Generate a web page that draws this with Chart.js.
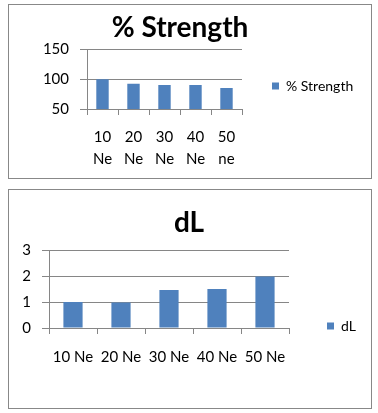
<!DOCTYPE html>
<html>
<head>
<meta charset="utf-8">
<script src="https://cdn.jsdelivr.net/npm/chart.js@4.4.1/dist/chart.umd.min.js"></script>
<style>
  html, body { margin: 0; padding: 0; background: #fff; }
  body { width: 378px; height: 413px; position: relative; overflow: hidden; }
  .box { position: absolute; border: 1px solid #888; background: #fff; }
  #box1 { left: 8px; top: 4px; width: 362px; height: 173px; }
  #box2 { left: 8px; top: 189px; width: 362px; height: 218px; }
  canvas { display: block; }
</style>
</head>
<body>
<div class="box" id="box1"><canvas id="strengthChart" width="362" height="173"></canvas></div>
<div class="box" id="box2"><canvas id="dlChart" width="362" height="218"></canvas></div>
<script>
// --- DATA ---
const strengthLabels = [['10', 'Ne'], ['20', 'Ne'], ['30', 'Ne'], ['40', 'Ne'], ['50', 'ne']];
const strengthValues = [100, 92.5, 90.5, 90.5, 85.5];
const strengthTicks = [50, 100, 150];

const dlLabels = ['10 Ne', '20 Ne', '30 Ne', '40 Ne', '50 Ne'];
const dlValues = [1.01, 0.99, 1.47, 1.51, 2.0];
const dlTicks = [0, 1, 2, 3];

// --- STYLE ---
const BAR_COLOR = '#4F81BD';
const GRID_COLOR = '#868686';
Chart.defaults.font.family = 'Lato, "Open Sans", sans-serif';
Chart.defaults.color = '#000';

// pins the title centre and the legend item to fixed spots (Excel style layout)
const boxPlace = {
    id: 'boxPlace',
    afterLayout(chart, args, opts) {
        const t = chart.titleBlock;
        if (t && opts.titleX != null) {
            t.left = opts.titleX - 150;
            t.right = opts.titleX + 150;
            t.width = 300;
        }
        const lg = chart.legend;
        if (lg && opts.legendX != null) {
            lg.left = opts.legendX;
            lg.right = opts.legendX + 120;
            lg.width = 120;
            lg.top = opts.legendY - 10;
            lg.bottom = opts.legendY + 10;
            lg.height = 20;
        }
    }
};

const makeChart = (id, labels, values, name, yTicks, cfg) => {
    return new Chart(document.getElementById(id), {
        type: 'bar',
        data: {
            labels: labels,
            datasets: [{
                label: name,
                data: values,
                backgroundColor: BAR_COLOR,
                borderWidth: 0,
                barPercentage: 0.4,
                categoryPercentage: 1.0
            }]
        },
        plugins: [boxPlace],
        options: {
            responsive: false,
            animation: false,
            layout: { padding: { left: 0, top: 0, right: cfg.padRight, bottom: 0 } },
            scales: {
                x: {
                    grid: { drawOnChartArea: false, tickLength: 6, color: GRID_COLOR, offset: true },
                    border: { color: GRID_COLOR },
                    afterFit: (scale) => { scale.height = cfg.xAxisH; },
                    ticks: {
                        font: { size: 15, lineHeight: cfg.xLineHeight },
                        padding: cfg.xPad, maxRotation: 0, autoSkip: false
                    }
                },
                y: {
                    min: yTicks[0],
                    max: yTicks[yTicks.length - 1],
                    afterBuildTicks: (scale) => { scale.ticks = yTicks.map(v => ({ value: v })); },
                    afterFit: (scale) => { scale.width = cfg.axisX; },
                    grid: { color: GRID_COLOR, tickLength: 7 },
                    border: { color: GRID_COLOR },
                    ticks: { font: { size: 15 }, padding: 11, autoSkip: false }
                }
            },
            plugins: {
                title: {
                    display: true,
                    text: name,
                    font: { size: 28, weight: 'bold' },
                    padding: { top: cfg.titleTop, bottom: cfg.titleBottom }
                },
                legend: {
                    position: 'chartArea',
                    labels: { boxWidth: 7, boxHeight: 7, padding: 0, font: { size: 14 } }
                },
                tooltip: { enabled: false },
                boxPlace: { titleX: cfg.titleX, legendX: cfg.legendX, legendY: cfg.legendY }
            }
        }
    });
};

makeChart('strengthChart', strengthLabels, strengthValues, '% Strength', strengthTicks, {
    axisX: 78, padRight: 129, xAxisH: 69, xLineHeight: 22 / 15, xPad: 11,
    titleTop: 6, titleBottom: 5, titleX: 171, legendX: 263, legendY: 81
});

makeChart('dlChart', dlLabels, dlValues, 'dL', dlTicks, {
    axisX: 40, padRight: 82, xAxisH: 80, xLineHeight: 1.2, xPad: 14,
    titleTop: 16, titleBottom: 11, titleX: 180, legendX: 318, legendY: 136
});
</script>
</body>
</html>
